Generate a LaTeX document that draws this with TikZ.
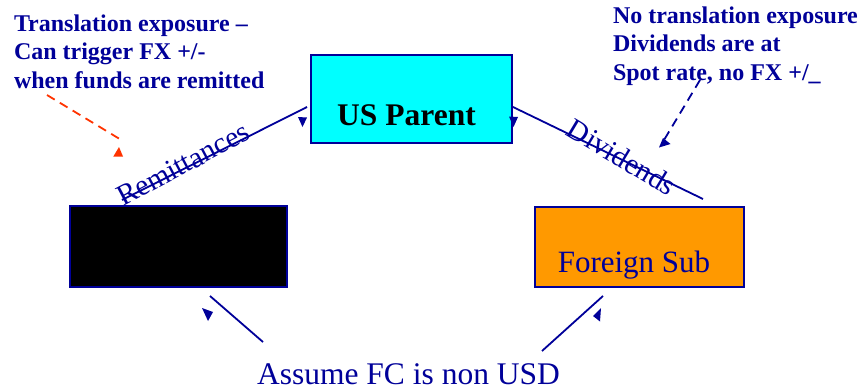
\documentclass[tikz,border=0pt]{standalone}
\usepackage{fontspec}
\setmainfont{Liberation Serif}
\begin{document}
\begin{tikzpicture}[x=1pt,y=-1pt,
  every node/.style={inner sep=0pt,outer sep=0pt},
  boxnode/.style={draw=navy,line width=2pt,anchor=north west},
  flow/.style={draw=navy,line width=1.8pt},
  noteline/.style={line width=1.8pt,dash pattern=on 9pt off 6pt},
  head/.style={fill=navy},
  note/.style={text=navy,font=\bfseries\fontsize{24}{28.5}\selectfont,align=left,anchor=north west},
  flowlabel/.style={text=navy,font=\fontsize{29.5}{32}\selectfont}]
\definecolor{navy}{RGB}{0,0,153}
\definecolor{cyanfill}{RGB}{0,255,255}
\definecolor{orangefill}{RGB}{255,153,0}
\definecolor{redorange}{RGB}{255,51,0}
\useasboundingbox (0,0) rectangle (863,388);

% entities
\node[boxnode,fill=cyanfill,minimum width=201pt,minimum height=88pt] (parent) at (310.5,54.5) {};
\node[anchor=base,font=\bfseries\fontsize{31.5}{34}\selectfont] (parenttxt) at (406.5,125) {US Parent};
\node[boxnode,fill=black,minimum width=217pt,minimum height=81pt] (black) at (70,206) {};
\node[boxnode,fill=orangefill,minimum width=209pt,minimum height=80pt] (sub) at (534.5,206.5) {};
\node[anchor=base,text=navy,font=\fontsize{31}{34}\selectfont] (subtxt) at (634,272.3) {Foreign Sub};

% flows between the entities
\coordinate (r1) at (122,200);
\coordinate (r2) at (307,107);
\draw[flow] (r1) -- (r2);
\fill[head] (298,117) -- (307,117.5) -- (302.5,127) -- cycle;
\node[flowlabel,rotate=28] (remit) at (183,164) {Remittances};

\coordinate (d1) at (513,107);
\coordinate (d2) at (703,199);
\draw[flow] (d1) -- (d2);
\fill[head] (509,116.5) -- (518,117) -- (513.5,127) -- cycle;
\node[flowlabel,rotate=-31] (divid) at (622,157) {Dividends};

% currency note and its arrows
\node[anchor=base,text=navy,font=\fontsize{31.5}{34}\selectfont] (assume) at (408.5,384) {Assume FC is non USD};
\coordinate (a1) at (263,342);
\coordinate (a2) at (210,296);
\draw[flow] (a1) -- (a2);
\fill[head] (202,308) -- (213,312) -- (208,321) -- cycle;
\coordinate (b1) at (542,351);
\coordinate (b2) at (603,296);
\draw[flow] (b1) -- (b2);
\fill[head] (601,308) -- (593,316) -- (600,321.5) -- cycle;

% annotations
\node[note] (leftnote) at (14,14.5) {Translation exposure --\\Can trigger FX +/-\\when funds are remitted};
\coordinate (ln1) at (47,95);
\coordinate (ln2) at (123,141);
\draw[noteline,draw=redorange] (ln1) -- (ln2);
\fill[redorange] (113.3,156.5) -- (123,156.5) -- (119,147) -- cycle;

\node[note] (rightnote) at (613,6.5) {No translation exposure\\Dividends are at\\Spot rate, no FX +/\_};
\coordinate (rn1) at (700,80);
\coordinate (rn2) at (664,140);
\draw[noteline,draw=navy] (rn1) -- (rn2);
\fill[navy] (659,147.5) -- (663,138) -- (670.5,144) -- cycle;
\end{tikzpicture}
\end{document}
